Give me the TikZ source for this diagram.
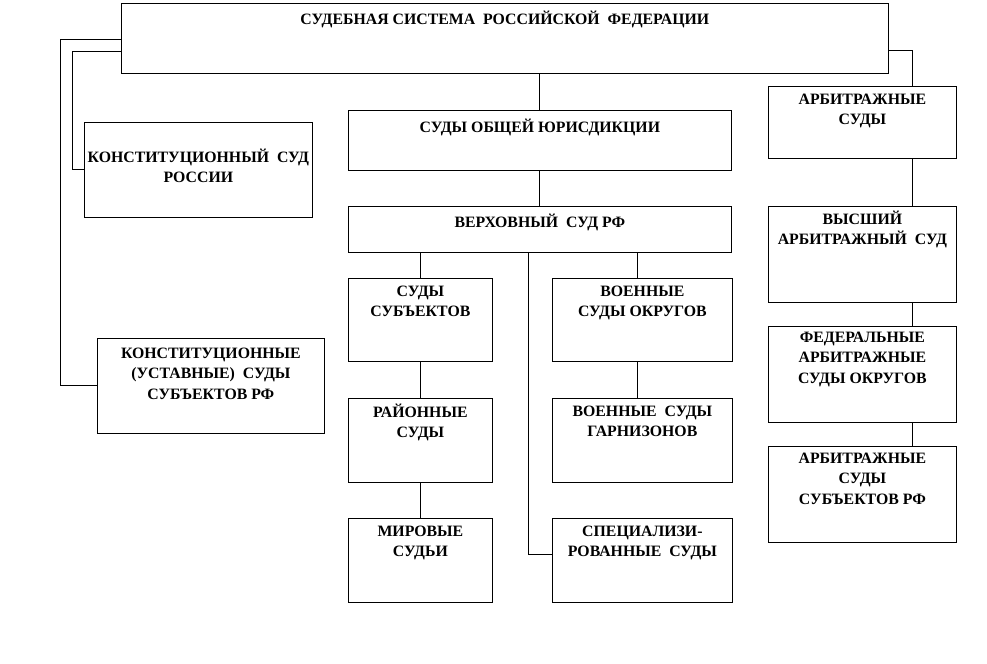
\documentclass[tikz,border=0pt]{standalone}
\usepackage{fontspec}
\setmainfont{Liberation Serif}
\usetikzlibrary{positioning}

% box text: [top gap]{width}{height}{text}, sizes in pixels of the sketch
\newcommand{\courtbox}[4][8]{\parbox[c][\dimexpr0.569055pt*#3\relax][t]{\dimexpr0.569055pt*#2\relax}{\centering\vspace*{\dimexpr0.569055pt*#1-1.5pt\relax}\rule{0pt}{7.5pt}#4}}

\tikzset{
  court/.style={draw, line width=0.45pt, inner sep=0pt, anchor=north west,
    font=\fontsize{9pt}{11.4pt}\selectfont\bfseries},
  link/.style={line width=0.45pt}
}

\begin{document}
\begin{tikzpicture}[x=0.02cm, y=-0.02cm]
    \useasboundingbox (0,0) rectangle (987,663);
    % top
    \node[court] (rf) at (121,3) {\courtbox[10]{767}{70}{СУДЕБНАЯ СИСТЕМА\ \ РОССИЙСКОЙ\ \ ФЕДЕРАЦИИ}};
    % constitutional courts
    \node[court] (ks) at (84,122) {\courtbox[29]{228}{95}{КОНСТИТУЦИОННЫЙ\ \ СУД\\РОССИИ}};
    \node[court] (kss) at (97,338) {\courtbox[10]{227}{95}{КОНСТИТУЦИОННЫЕ\\(УСТАВНЫЕ)\ \ СУДЫ\\СУБЪЕКТОВ РФ}};
    % general jurisdiction
    \node[court] (soy) at (348,110) {\courtbox[11]{383}{60}{СУДЫ ОБЩЕЙ ЮРИСДИКЦИИ}};
    \node[court] (vs) at (348,206) {\courtbox[10]{383}{46}{ВЕРХОВНЫЙ\ \ СУД РФ}};
    \node[court] (ss) at (348,278) {\courtbox{144}{83}{СУДЫ\\СУБЪЕКТОВ}};
    \node[court] (rs) at (348,398) {\courtbox{144}{84}{РАЙОННЫЕ\\СУДЫ}};
    \node[court] (ms) at (348,518) {\courtbox{144}{84}{МИРОВЫЕ\\СУДЬИ}};
    \node[court] (vso) at (552,278) {\courtbox{180}{83}{ВОЕННЫЕ\\СУДЫ ОКРУГОВ}};
    \node[court] (vsg) at (552,398) {\courtbox{180}{84}{ВОЕННЫЕ\ \ СУДЫ\\ГАРНИЗОНОВ}};
    \node[court] (spec) at (552,518) {\courtbox{180}{84}{СПЕЦИАЛИЗИ-\\РОВАННЫЕ\ \ СУДЫ}};
    % arbitration
    \node[court] (as) at (768,86) {\courtbox{188}{72}{АРБИТРАЖНЫЕ\\СУДЫ}};
    \node[court] (vas) at (768,206) {\courtbox[7]{188}{96}{ВЫСШИЙ\\АРБИТРАЖНЫЙ\ \ СУД}};
    \node[court] (fas) at (768,326) {\courtbox[6]{188}{96}{ФЕДЕРАЛЬНЫЕ\\АРБИТРАЖНЫЕ\\СУДЫ ОКРУГОВ}};
    \node[court] (ass) at (768,446) {\courtbox[7]{188}{96}{АРБИТРАЖНЫЕ\\СУДЫ\\СУБЪЕКТОВ РФ}};

    \coordinate (kink-ks) at (72,51);
    \coordinate (kink-kss) at (60,39);
    \coordinate (kink-as) at (912,50);
    \coordinate (kink-spec) at (528,554);
    \coordinate (mil) at (637,0);

    \draw[link] (rf.west |- kink-ks) -- (kink-ks) |- (ks.west);
    \draw[link] (rf.west |- kink-kss) -- (kink-kss) |- (kss.west);
    \draw[link] (rf.south -| soy.north) -- (soy.north);
    \draw[link] (soy) -- (vs);
    \draw[link] (vs.south -| ss.north) -- (ss.north);
    \draw[link] (ss) -- (rs);
    \draw[link] (rs) -- (ms);
    \draw[link] (vs.south -| mil) -- (vso.north -| mil);
    \draw[link] (vso.south -| mil) -- (vsg.north -| mil);
    \draw[link] (vs.south -| kink-spec) -- (kink-spec) -- (spec.west |- kink-spec);
    \draw[link] (rf.east |- kink-as) -- (kink-as) -- (as.north -| kink-as);
    \draw[link] (as.south -| kink-as) -- (vas.north -| kink-as);
    \draw[link] (vas.south -| kink-as) -- (fas.north -| kink-as);
    \draw[link] (fas.south -| kink-as) -- (ass.north -| kink-as);
  \end{tikzpicture}
\end{document}
